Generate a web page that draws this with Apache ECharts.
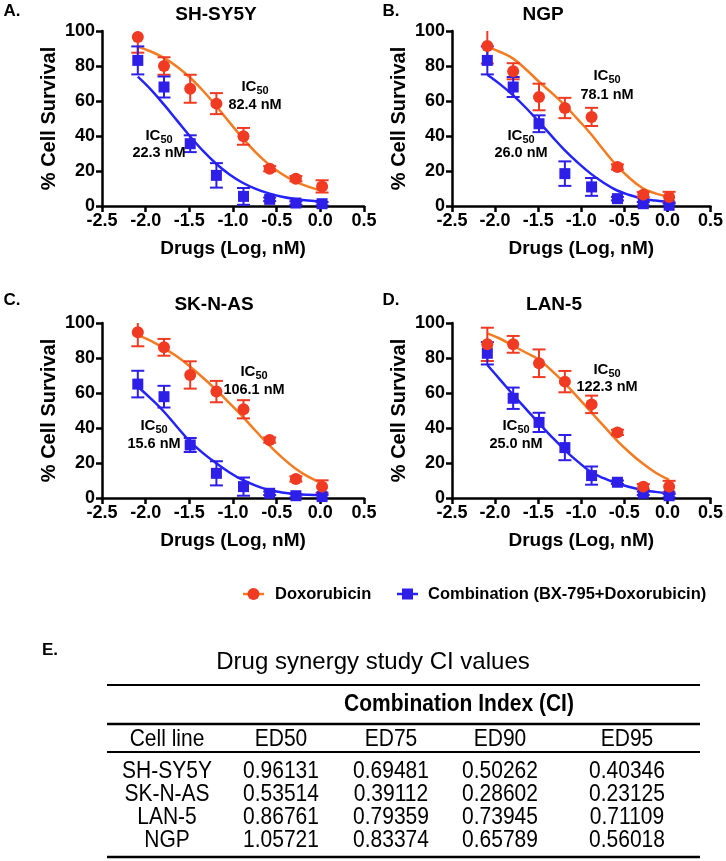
<!DOCTYPE html>
<html><head><meta charset="utf-8">
<script src="https://cdn.jsdelivr.net/npm/echarts@6/dist/echarts.min.js"></script>
<style>html,body{margin:0;padding:0;background:#fff}#c{width:726px;height:861px}</style>
</head><body><div id="c"></div>
<script>
// ---- data ----
const panels = ['SH-SY5Y', 'NGP', 'SK-N-AS', 'LAN-5'];
const panelLetters = ['A.', 'B.', 'C.', 'D.'];
const xTicks = [-2.5, -2.0, -1.5, -1.0, -0.5, 0.0, 0.5];
const yTicks = [0, 20, 40, 60, 80, 100];
const doseLog = [-2.09, -1.79, -1.49, -1.19, -0.88, -0.58, -0.28, 0.02];
const fitX = [-2.09, -1.94, -1.79, -1.64, -1.49, -1.34, -1.19, -1.04, -0.89, -0.74, -0.59, -0.44, -0.29, -0.14, 0.02];

const doxoA = [96.6, 80, 67, 58.5, 39.8, 21.3, 15.6, 11.2];
const doxoErrA = [9, 5, 8, 6, 4.8, 1.5, 1.5, 3.5];
const comboA = [83.2, 68, 35.6, 17.5, 5.5, 3.8, 1.7, 1.3];
const comboErrA = [8, 6, 4.8, 7, 4.8, 1, 1, 1];
const doxoFitA = [90.9, 88.3, 84.6, 79.6, 73.3, 65.7, 57.0, 47.8, 38.8, 30.7, 23.8, 18.3, 14.1, 11.1, 8.7];
const comboFitA = [73.9, 66.5, 57.9, 48.8, 39.7, 31.3, 24.0, 18.0, 13.3, 9.8, 7.2, 5.3, 4.0, 3.1, 2.4];

const doxoB = [91.4, 77, 62.3, 56, 50.9, 22.3, 6.5, 5.1];
const doxoErrB = [10, 4.6, 7.6, 5.8, 5.2, 1.5, 1.5, 3];
const comboB = [83.2, 68, 47, 18.5, 10.9, 4.2, 1.3, 0.4];
const comboErrB = [8, 5.7, 4.8, 7, 5.1, 1, 1, 1];
const doxoFitB = [90.9, 88, 84.2, 78, 71, 64.5, 57.5, 49.5, 41.3, 32, 23.2, 16, 10.3, 7.2, 5.1];
const comboFitB = [75, 69.5, 63.2, 56, 48, 39.8, 31.8, 24.8, 18.5, 13.3, 9, 6.3, 4.2, 3.1, 2.3];

const doxoC = [94.7, 86.1, 70.3, 60.8, 50.7, 33.1, 10.9, 6.5];
const doxoErrC = [8, 4.8, 7.8, 6.1, 5.2, 1.5, 1.5, 3.6];
const comboC = [65.1, 57.9, 30.3, 14.1, 6.5, 2.7, 1.3, 0.8];
const comboErrC = [7.6, 6.2, 4, 6.9, 5.2, 1, 1, 1];
const doxoFitC = [93.1, 89.8, 85.5, 80.8, 75, 68.6, 61.7, 54.2, 46.5, 38.3, 30.3, 23.2, 17, 12.2, 8.4];
const comboFitC = [63.6, 56.8, 49.3, 40.6, 32.2, 25.5, 19.8, 14.6, 10.3, 7.1, 4.6, 3.2, 2.3, 1.8, 1.5];

const doxoD = [87.8, 87.8, 77, 66.5, 53.5, 37.5, 6.5, 6.5];
const doxoErrD = [9.5, 4.8, 7.9, 6.1, 5, 1.5, 1.5, 3.3];
const comboD = [82.7, 57, 43.2, 28.8, 12.8, 9, 2.7, 1.3];
const comboErrD = [6.4, 6.1, 5.5, 7.2, 5.2, 1, 1, 1];
const doxoFitD = [94.1, 91, 87, 83, 79, 72.6, 65.5, 57.5, 49.3, 41.2, 33.1, 26, 19.8, 14.6, 10.3];
const comboFitD = [76, 67.5, 58.9, 50.8, 42.7, 34.8, 27.4, 20.8, 15, 11.3, 8.4, 6.3, 4.6, 3.5, 2.7];

const ic50Doxo = ['82.4 nM', '78.1 nM', '106.1 nM', '122.3 nM'];
const ic50Combo = ['22.3 nM', '26.0 nM', '15.6 nM', '25.0 nM'];
const legendNames = ['Doxorubicin', 'Combination (BX-795+Doxorubicin)'];

const tableTitle = 'Drug synergy study CI values';
const tableGroupHeader = 'Combination Index (CI)';
const tableHeaders = ['Cell line', 'ED50', 'ED75', 'ED90', 'ED95'];
const cellLines = ['SH-SY5Y', 'SK-N-AS', 'LAN-5', 'NGP'];
const ciED50 = ['0.96131', '0.53514', '0.86761', '1.05721'];
const ciED75 = ['0.69481', '0.39112', '0.79359', '0.83374'];
const ciED90 = ['0.50262', '0.28602', '0.73945', '0.65789'];
const ciED95 = ['0.40346', '0.23125', '0.71109', '0.56018'];

// ---- styling / layout ----
const fam = "'Liberation Sans', Arial, Helvetica, sans-serif";
const RED = '#f03a22', ORANGE = '#f47b20', BLUE = '#2d1fe8', BLUE_LINE = '#2323ff';
const gridPos = [
  {left: 102, top: 31}, {left: 452, top: 31},
  {left: 102, top: 323}, {left: 452, top: 323}
];
const doxoData = [doxoA, doxoB, doxoC, doxoD];
const doxoErr = [doxoErrA, doxoErrB, doxoErrC, doxoErrD];
const comboData = [comboA, comboB, comboC, comboD];
const comboErr = [comboErrA, comboErrB, comboErrC, comboErrD];
const doxoFit = [doxoFitA, doxoFitB, doxoFitC, doxoFitD];
const comboFit = [comboFitA, comboFitB, comboFitC, comboFitD];

const zip = (xs, ys) => xs.map((x, i) => [x, ys[i]]);
const zip3 = (xs, ys, es) => xs.map((x, i) => [x, ys[i], es[i]]);

function errRender(params, api) {
  const x = api.value(0), y = api.value(1), e = api.value(2);
  const t = api.coord([x, y + e]), b = api.coord([x, y - e]);
  const hw = 6.5;
  const st = {stroke: api.visual('color'), lineWidth: 2};
  return {type: 'group', children: [
    {type: 'line', shape: {x1: t[0], y1: t[1], x2: b[0], y2: b[1]}, style: st},
    {type: 'line', shape: {x1: t[0] - hw, y1: t[1], x2: t[0] + hw, y2: t[1]}, style: st},
    {type: 'line', shape: {x1: b[0] - hw, y1: b[1], x2: b[0] + hw, y2: b[1]}, style: st}
  ]};
}

const grids = [], xAxes = [], yAxes = [], series = [];
gridPos.forEach((g, i) => {
  grids.push({left: g.left, top: g.top, width: 262, height: 175});
  xAxes.push({
    gridIndex: i, type: 'value', min: xTicks[0], max: xTicks[xTicks.length - 1], interval: 0.5,
    name: 'Drugs (Log, nM)', nameLocation: 'middle', nameGap: 33,
    nameTextStyle: {fontSize: 19, fontWeight: 'bold', color: '#000', fontFamily: fam},
    axisLine: {onZero: false, lineStyle: {color: '#000', width: 2.5}},
    axisTick: {length: 6, lineStyle: {color: '#000', width: 2.5}},
    axisLabel: {fontSize: 18, fontWeight: 'bold', color: '#000', fontFamily: fam, margin: 6,
      formatter: v => v.toFixed(1)},
    splitLine: {show: false}
  });
  yAxes.push({
    gridIndex: i, type: 'value', min: yTicks[0], max: yTicks[yTicks.length - 1], interval: 20,
    name: '% Cell Survival', nameLocation: 'middle', nameGap: 43, nameRotate: 90,
    nameTextStyle: {fontSize: 20, fontWeight: 'bold', color: '#000', fontFamily: fam},
    axisLine: {show: true, onZero: false, lineStyle: {color: '#000', width: 2.5}},
    axisTick: {show: true, length: 6, lineStyle: {color: '#000', width: 2.5}},
    axisLabel: {fontSize: 18, fontWeight: 'bold', color: '#000', fontFamily: fam, margin: 7},
    splitLine: {show: false}
  });
  series.push(
    {type: 'line', name: 'dfit' + i, xAxisIndex: i, yAxisIndex: i, data: zip(fitX, doxoFit[i]),
      smooth: 0.4, showSymbol: false, symbol: 'none', lineStyle: {color: ORANGE, width: 2.5}, z: 2, silent: true},
    {type: 'line', name: 'cfit' + i, xAxisIndex: i, yAxisIndex: i, data: zip(fitX, comboFit[i]),
      smooth: 0.4, showSymbol: false, symbol: 'none', lineStyle: {color: BLUE_LINE, width: 2.5}, z: 2, silent: true},
    {type: 'custom', name: 'derr' + i, xAxisIndex: i, yAxisIndex: i, data: zip3(doseLog, doxoData[i], doxoErr[i]),
      renderItem: errRender, itemStyle: {color: RED}, clip: true, z: 3, encode: {x: 0, y: 1}},
    {type: 'custom', name: 'cerr' + i, xAxisIndex: i, yAxisIndex: i, data: zip3(doseLog, comboData[i], comboErr[i]),
      renderItem: errRender, itemStyle: {color: BLUE}, clip: true, z: 3, encode: {x: 0, y: 1}},
    {type: 'scatter', name: 'dpts' + i, xAxisIndex: i, yAxisIndex: i, data: zip(doseLog, doxoData[i]),
      symbol: 'circle', symbolSize: 12, itemStyle: {color: RED, opacity: 1}, z: 5},
    {type: 'scatter', name: 'cpts' + i, xAxisIndex: i, yAxisIndex: i, data: zip(doseLog, comboData[i]),
      symbol: 'rect', symbolSize: 11, itemStyle: {color: BLUE, opacity: 1}, z: 4}
  );
});

// ---- text graphics ----
const graphic = [];
function txt(text, x, y, size, weight, align, extra) {
  graphic.push(Object.assign({type: 'text', x: x, y: y, z: 10, silent: true,
    style: {text: text, fontSize: size, fontWeight: weight || 'normal', fontFamily: fam, fill: '#000',
      align: align || 'center', verticalAlign: 'middle', textAlign: align || 'center', textVerticalAlign: 'middle'}}, extra || {}));
}
function icText(x, y) {
  graphic.push({type: 'text', x: x, y: y, z: 10, silent: true,
    style: {text: '{a|IC}{s|50}', align: 'center', verticalAlign: 'middle', textAlign: 'center', textVerticalAlign: 'middle',
      rich: {a: {fontSize: 15, fontWeight: 'bold', fontFamily: fam, fill: '#000', color: '#000', lineHeight: 18, verticalAlign: 'middle'},
             s: {fontSize: 11, fontWeight: 'bold', fontFamily: fam, fill: '#000', color: '#000', lineHeight: 11, verticalAlign: 'bottom'}}}});
}
const titlePos = [[216, 15], [543, 15], [214, 305], [554, 305]];
const letterPos = [[12, 11], [391, 11], [12, 300], [391, 300]];
panels.forEach((p, i) => {
  txt(p, titlePos[i][0], titlePos[i][1], 19, 'bold');
  txt(panelLetters[i], letterPos[i][0], letterPos[i][1], 17, 'bold');
});
const icDoxoPos = [[255, 87, 105], [607, 76, 95], [254, 372, 390], [607, 370, 387]];
const icComboPos = [[159, 136, 153], [521, 136, 153], [154, 426, 444], [516, 426, 444]];
for (let i = 0; i < 4; i++) {
  icText(icDoxoPos[i][0], icDoxoPos[i][1]);
  txt(ic50Doxo[i], icDoxoPos[i][0], icDoxoPos[i][2], 14.5, 'bold');
  icText(icComboPos[i][0], icComboPos[i][1]);
  txt(ic50Combo[i], icComboPos[i][0], icComboPos[i][2], 14.5, 'bold');
}

// legend (drawn)
const LY = 594;
graphic.push({type: 'line', shape: {x1: 243, y1: LY, x2: 264, y2: LY}, style: {stroke: ORANGE, lineWidth: 2.5}, silent: true});
graphic.push({type: 'circle', shape: {cx: 253.5, cy: LY, r: 6}, style: {fill: RED}, silent: true});
txt(legendNames[0], 275, LY, 16.5, 'bold', 'left');
graphic.push({type: 'line', shape: {x1: 397, y1: LY, x2: 418, y2: LY}, style: {stroke: BLUE_LINE, lineWidth: 2.5}, silent: true});
graphic.push({type: 'rect', shape: {x: 402, y: LY - 5.5, width: 11, height: 11}, style: {fill: BLUE}, silent: true});
txt(legendNames[1], 428, LY, 16.5, 'bold', 'left');

// table E
txt('E.', 50, 650, 17, 'bold');
txt(tableTitle, 373, 662, 24, 'normal');
const TL = 107, TR = 700;
function hline(y, w) {
  graphic.push({type: 'line', shape: {x1: TL, y1: y, x2: TR, y2: y}, style: {stroke: '#000', lineWidth: w}, silent: true});
}
hline(685, 2); hline(724, 2.5); hline(752, 2); hline(857, 2.5);
txt(tableGroupHeader, 459, 705, 21, 'bold', 'center', {scaleY: 1.1});
const colX = [167, 281, 391, 500, 627];
tableHeaders.forEach((h, j) => txt(h, colX[j], 739, 21, 'normal', 'center', {scaleY: 1.15}));
const cols = [cellLines, ciED50, ciED75, ciED90, ciED95];
const rowY = [771, 794, 817, 840];
rowY.forEach((y, r) => cols.forEach((c, j) => txt(c[r], colX[j], y, 21, 'normal', 'center', {scaleY: 1.15})));

const chart = echarts.init(document.getElementById('c'), null, {renderer: 'canvas'});
chart.setOption({
  animation: false,
  backgroundColor: '#fff',
  grid: grids, xAxis: xAxes, yAxis: yAxes, series: series, graphic: graphic
});
</script></body>
